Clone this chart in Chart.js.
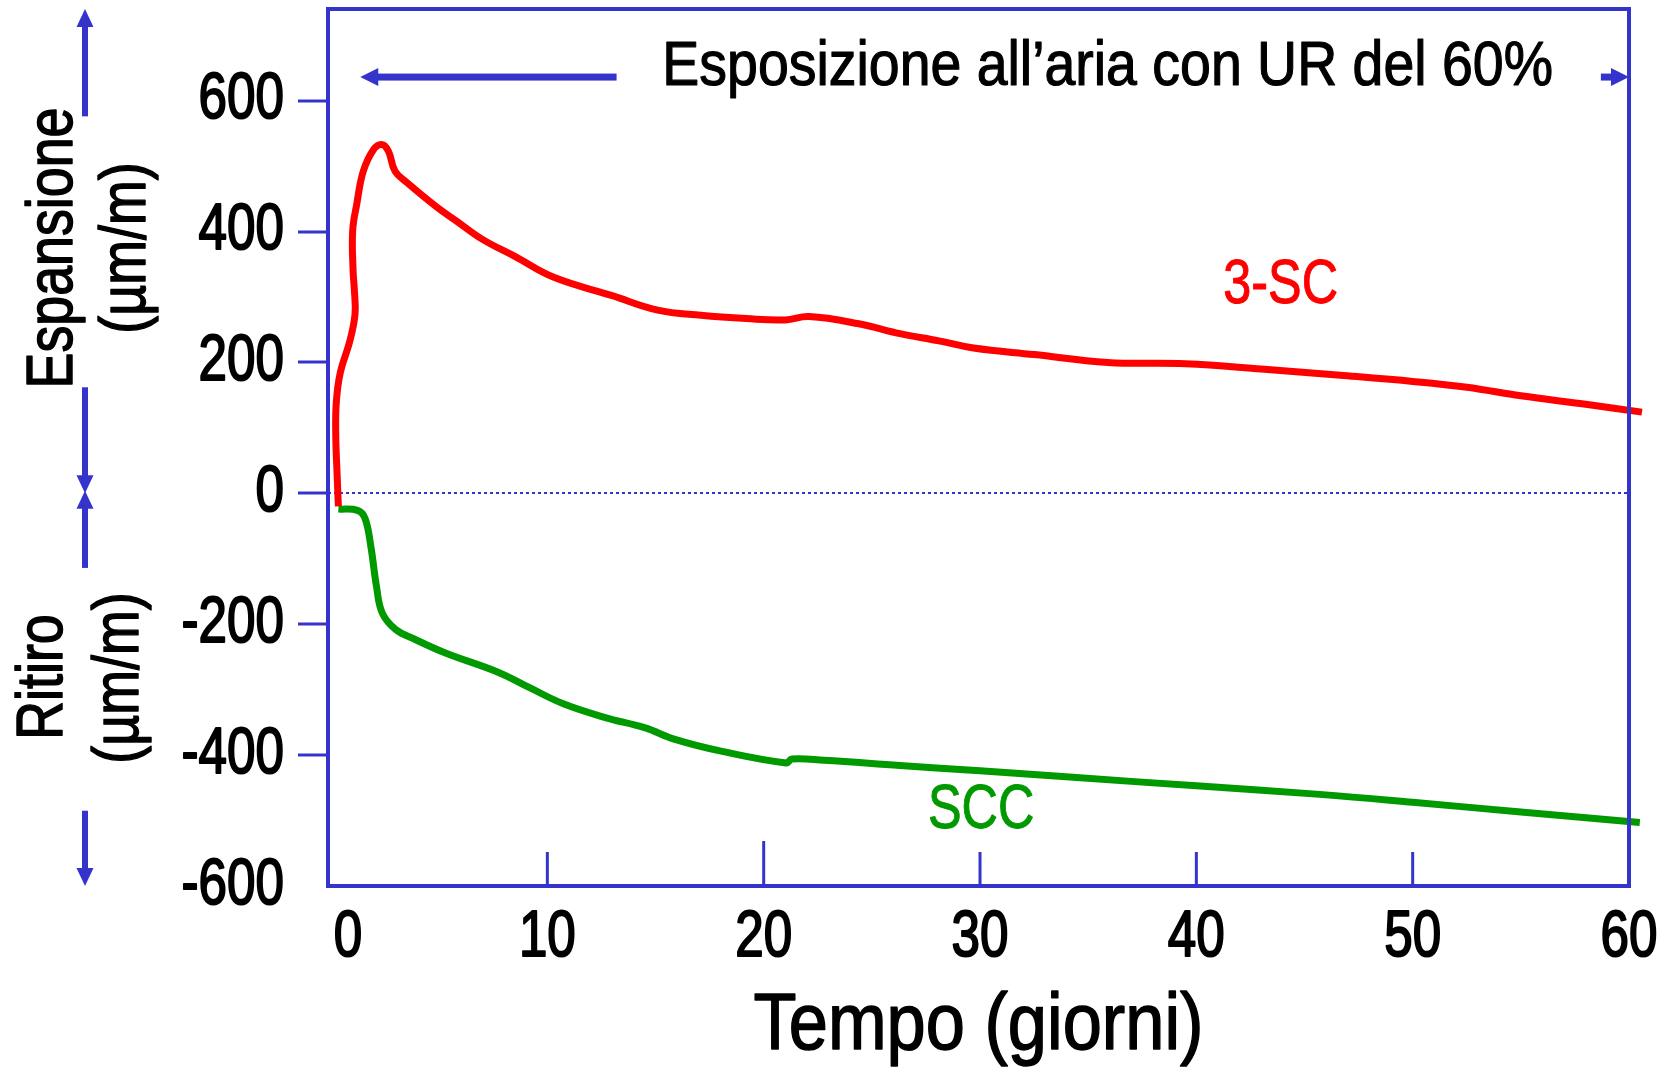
<!DOCTYPE html>
<html>
<head>
<meta charset="utf-8">
<title>Esposizione all'aria con UR del 60%</title>
<script src="https://cdn.jsdelivr.net/npm/chart.js@4.4.1/dist/chart.umd.min.js"></script>
<style>
  html, body { margin: 0; padding: 0; background: #fff; }
  canvas { display: block; }
</style>
</head>
<body>
<canvas id="chart" width="1672" height="1075"></canvas>
<script>
// ---- data (days, strain in µm/m) ----
var days3SC = [0.34, 0.28, 0.22, 0.24, 0.42, 0.88, 1.11, 1.08, 1.02, 1.0, 1.19, 1.49, 1.96, 2.34, 2.65, 2.96, 3.5,
               4.9, 5.8, 7.0, 8.5, 10.3, 13.0, 15.1, 17.1, 19.2, 21.0, 22.1, 24.4, 26.3, 28.1, 29.7, 32.5, 35.9,
               39.5, 43.0, 46.8, 50.0, 52.5, 55.0, 58.0, 60.6];
var strain3SC = [-20, 30, 86, 137, 183, 234, 274, 310, 340, 401, 442, 492, 525, 533, 523, 492, 475,
                 437, 416, 388, 362, 330, 302, 280, 272, 267, 265, 270, 259, 244, 233, 222, 212, 200,
                 198, 190, 180, 171, 162, 149, 136, 124];

var daysSCC = [0.34, 1.22, 1.57, 1.84, 2.1, 2.37, 2.99, 3.87, 5.29, 7.77, 9.18, 10.77, 12.72, 14.49, 15.9,
               18.03, 21.04, 21.3, 22.8, 26.3, 30.0, 34.3, 40.0, 45.7, 50.0, 55.0, 60.5];
var strainSCC = [-24, -26, -38, -81, -142, -183, -208, -223, -244, -274, -297, -322, -343, -358, -376,
                 -394, -412, -406, -408, -416, -424, -434, -447, -460, -472, -487, -503];

var xTickValues = [0, 10, 20, 30, 40, 50, 60];
var yTickValues = [-600, -400, -200, 0, 200, 400, 600];

var seriesNames = ['3-SC', 'SCC'];
var xTitle = 'Tempo (giorni)';
var topNote = 'Esposizione all\u2019aria con UR del 60%';

// ---- styles ----
var BLUE = '#3434cc';
var RED = '#ff0000';
var GREEN = '#009900';
// the original uses a condensed face; Liberation Sans squeezed horizontally gets close
var FONT = "'Liberation Sans', Arial, sans-serif";
var TXT = {
    tick:   { size: 64, squeeze: 0.8,  bold: 2.0 },
    title:  { size: 80, squeeze: 0.88, bold: 1.5 },
    note:   { size: 63, squeeze: 0.88, bold: 1.2 },
    side:   { size: 64, squeeze: 0.84, bold: 1.5 },
    series: { size: 63, squeeze: 0.8,  bold: 1.0 }
};

function toPoints(xs, ys) {
    return xs.map(function (v, i) { return { x: v, y: ys[i] }; });
}

// filled arrow from (x1,y1) with tip at (x2,y2)
function arrow(ctx, x1, y1, x2, y2, shaft, headLen, headW) {
    var ang = Math.atan2(y2 - y1, x2 - x1);
    var L = Math.hypot(x2 - x1, y2 - y1);
    ctx.save();
    ctx.translate(x2, y2);
    ctx.rotate(ang);
    ctx.fillRect(-L, -shaft / 2, L - headLen + 1, shaft);
    ctx.beginPath();
    ctx.moveTo(0, 0);
    ctx.lineTo(-headLen, -headW / 2);
    ctx.lineTo(-headLen, headW / 2);
    ctx.closePath();
    ctx.fill();
    ctx.restore();
}

// text squeezed along its own direction, slightly emboldened
function text(ctx, str, x, y, st, color, align, baseline, rot) {
    ctx.save();
    ctx.translate(x, y);
    if (rot) ctx.rotate(rot);
    ctx.scale(st.squeeze, 1);
    ctx.font = st.size + 'px ' + FONT;
    ctx.fillStyle = color;
    ctx.strokeStyle = color;
    ctx.lineWidth = st.bold;
    ctx.lineJoin = 'round';
    ctx.textAlign = align;
    ctx.textBaseline = baseline;
    ctx.fillText(str, 0, 0);
    ctx.strokeText(str, 0, 0);
    ctx.restore();
}

// frame, inner x ticks, arrows and all the labels
var decorPlugin = {
    id: 'decor',
    afterDraw: function (chart) {
        var ctx = chart.ctx, a = chart.chartArea;
        var xs = chart.scales.x, ys = chart.scales.y;
        ctx.save();

        // frame
        ctx.strokeStyle = BLUE;
        ctx.lineWidth = 4;
        ctx.strokeRect(a.left, a.top, a.right - a.left, a.bottom - a.top);

        // x ticks pointing inside
        ctx.lineWidth = 3;
        xTickValues.slice(1, -1).forEach(function (v) {
            var px = xs.getPixelForValue(v);
            var len = v === 20 ? 45 : 34;
            ctx.beginPath();
            ctx.moveTo(px, a.bottom);
            ctx.lineTo(px, a.bottom - len);
            ctx.stroke();
        });

        // tick labels
        ys.ticks.forEach(function (t) {
            text(ctx, String(t.value), a.left - 44, ys.getPixelForValue(t.value), TXT.tick, '#000', 'right', 'middle');
        });
        xs.ticks.forEach(function (t) {
            var nudge = t.value === 0 ? 17 : 0;
            text(ctx, String(t.value), xs.getPixelForValue(t.value) + nudge, a.bottom + 52, TXT.tick, '#000', 'center', 'middle');
        });

        // axis title
        text(ctx, xTitle, (a.left + a.right) / 2, a.bottom + 141, TXT.title, '#000', 'center', 'middle');

        // arrows
        ctx.fillStyle = BLUE;
        var yNote = ys.getPixelForValue(636);
        arrow(ctx, xs.getPixelForValue(13.2), yNote, xs.getPixelForValue(1.35), yNote, 7, 18, 18);
        arrow(ctx, xs.getPixelForValue(58.7), yNote, a.right, yNote, 7, 18, 18);

        var ax = 85;
        arrow(ctx, ax, ys.getPixelForValue(576), ax, a.top, 6, 18, 17);
        arrow(ctx, ax, ys.getPixelForValue(162), ax, ys.getPixelForValue(0), 6, 18, 17);
        arrow(ctx, ax, ys.getPixelForValue(-114), ax, ys.getPixelForValue(4), 6, 18, 17);
        arrow(ctx, ax, ys.getPixelForValue(-485), ax, a.bottom, 6, 18, 17);

        // top note
        text(ctx, topNote, xs.getPixelForValue(35.9), ys.getPixelForValue(651), TXT.note, '#000', 'center', 'middle');

        // series labels
        text(ctx, seriesNames[0], xs.getPixelForValue(43.9), ys.getPixelForValue(317), TXT.series, RED, 'center', 'middle');
        text(ctx, seriesNames[1], xs.getPixelForValue(30.05), ys.getPixelForValue(-485), TXT.series, GREEN, 'center', 'middle');

        // side titles (rotated)
        var up = -Math.PI / 2;
        text(ctx, 'Espansione', 72, 248, TXT.side, '#000', 'center', 'alphabetic', up);
        text(ctx, '(\u00b5m/m)', 145, 248, TXT.side, '#000', 'center', 'alphabetic', up);
        text(ctx, 'Ritiro', 62, 677, TXT.side, '#000', 'center', 'alphabetic', up);
        text(ctx, '(\u00b5m/m)', 138, 678, TXT.side, '#000', 'center', 'alphabetic', up);

        ctx.restore();
    }
};

var ctx = document.getElementById('chart');

var myChart = new Chart(ctx, {
    type: 'line',
    data: {
        datasets: [{
            label: seriesNames[0],
            data: toPoints(days3SC, strain3SC),
            borderColor: RED,
            borderWidth: 7,
            pointRadius: 0,
            tension: 0.4,
            fill: false,
            clip: false
        }, {
            label: seriesNames[1],
            data: toPoints(daysSCC, strainSCC),
            borderColor: GREEN,
            borderWidth: 7,
            pointRadius: 0,
            tension: 0.4,
            fill: false,
            clip: false
        }]
    },
    options: {
        responsive: false,
        animation: false,
        layout: { padding: { top: 9, right: 43, left: 0, bottom: 0 } },
        plugins: {
            legend: { display: false },
            tooltip: { enabled: false }
        },
        scales: {
            x: {
                type: 'linear',
                min: -0.14,
                max: 60,
                afterBuildTicks: function (scale) {
                    scale.ticks = xTickValues.map(function (v) { return { value: v }; });
                },
                afterFit: function (scale) {
                    scale.height = 189;
                    scale.paddingLeft = 0;
                    scale.paddingRight = 0;
                },
                grid: { display: false, drawTicks: false },
                border: { display: false },
                ticks: { display: false }
            },
            y: {
                type: 'linear',
                min: -600,
                max: 740,
                afterBuildTicks: function (scale) {
                    scale.ticks = yTickValues.map(function (v) { return { value: v }; });
                },
                afterFit: function (scale) {
                    scale.width = 328;
                    scale.paddingTop = 0;
                    scale.paddingBottom = 0;
                },
                grid: {
                    drawOnChartArea: true,
                    color: function (c) { return c.tick && c.tick.value === 0 ? BLUE : 'rgba(0,0,0,0)'; },
                    lineWidth: 2,
                    tickLength: 30,
                    tickWidth: 3,
                    tickColor: function (c) { return c.tick && c.tick.value === -600 ? 'rgba(0,0,0,0)' : BLUE; }
                },
                border: { display: false, dash: [3, 3] },
                ticks: { display: false }
            }
        }
    },
    plugins: [decorPlugin]
});
</script>
</body>
</html>
